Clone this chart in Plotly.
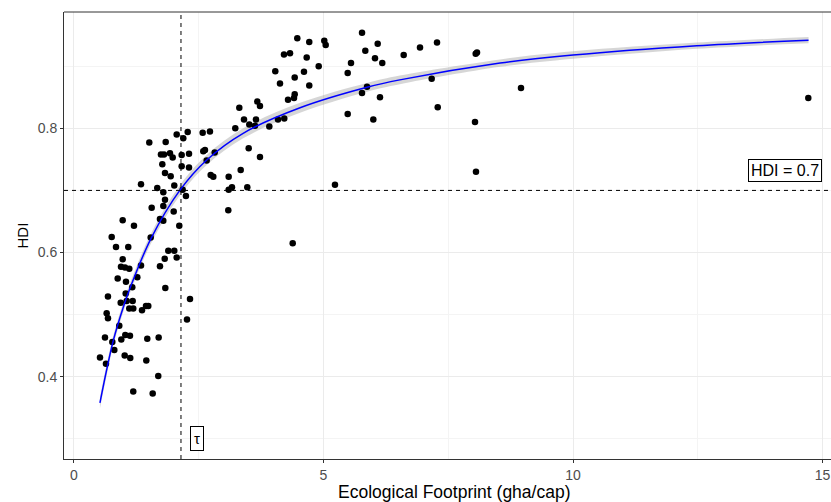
import plotly.graph_objects as go

# Ecological footprint (gha/cap) and HDI per country
ef = [1.509, 1.838, 2.058, 2.190, 2.279, 2.579, 2.725, 1.743, 1.804, 1.924,
      1.978, 2.158, 2.305, 1.770, 2.158, 2.305, 2.625, 2.659, 2.591, 1.824,
      1.938, 1.343, 1.669, 2.010, 1.790, 2.178, 2.244, 1.824, 1.790, 1.557,
      1.998, 1.723, 1.790, 0.976, 1.202, 2.110, 0.756, 1.537, 0.842, 1.088,
      1.890, 2.010, 2.058, 1.818, 1.723, 0.976, 0.942, 1.022, 1.108, 1.343,
      1.269, 0.876, 1.042, 1.168, 1.830, 1.036, 0.681, 0.936, 1.056, 1.176,
      1.108, 1.188, 1.363, 1.443, 1.489, 2.325, 0.655, 0.681, 2.265, 0.908,
      0.621, 0.768, 0.948, 1.028, 1.122, 1.469, 1.697, 0.808, 0.521, 0.641,
      1.016, 1.128, 1.449, 1.689, 1.188, 1.577, 4.475, 4.715, 5.016, 5.044,
      4.208, 4.329, 4.663, 4.904, 4.034, 4.609, 4.423, 4.128, 4.715, 4.423,
      4.409, 4.289, 3.673, 3.727, 3.313, 3.407, 3.647, 3.513, 3.627, 4.088,
      4.214, 3.914, 3.232, 3.501, 3.727, 2.820, 2.739, 2.792, 3.341, 3.100,
      3.166, 3.100, 3.473, 3.092, 5.772, 6.086, 5.838, 6.032, 6.178, 5.551,
      5.485, 6.607, 6.934, 7.275, 8.050, 8.076, 7.168, 5.872, 5.772, 6.132,
      5.485, 5.998, 7.289, 8.036, 8.958, 8.056, 14.715, 4.383, 5.230]
hdi = [0.777, 0.778, 0.790, 0.784, 0.794, 0.793, 0.795, 0.758, 0.758, 0.760,
       0.753, 0.757, 0.759, 0.742, 0.739, 0.737, 0.765, 0.748, 0.763, 0.728,
       0.723, 0.710, 0.704, 0.708, 0.697, 0.701, 0.691, 0.685, 0.675, 0.672,
       0.666, 0.654, 0.651, 0.652, 0.643, 0.643, 0.625, 0.624, 0.609, 0.609,
       0.603, 0.603, 0.592, 0.590, 0.578, 0.589, 0.577, 0.576, 0.574, 0.579,
       0.560, 0.558, 0.553, 0.544, 0.543, 0.534, 0.529, 0.519, 0.522, 0.522,
       0.510, 0.510, 0.507, 0.514, 0.514, 0.525, 0.502, 0.494, 0.492, 0.482,
       0.463, 0.456, 0.460, 0.467, 0.466, 0.461, 0.463, 0.443, 0.431, 0.421,
       0.434, 0.430, 0.426, 0.401, 0.376, 0.373, 0.945, 0.939, 0.941, 0.934,
       0.919, 0.921, 0.914, 0.900, 0.892, 0.891, 0.882, 0.872, 0.869, 0.855,
       0.849, 0.846, 0.843, 0.836, 0.833, 0.814, 0.814, 0.806, 0.804, 0.814,
       0.816, 0.803, 0.800, 0.768, 0.754, 0.761, 0.725, 0.722, 0.733, 0.722,
       0.705, 0.701, 0.705, 0.668, 0.954, 0.936, 0.925, 0.913, 0.905, 0.905,
       0.889, 0.918, 0.930, 0.938, 0.920, 0.922, 0.880, 0.867, 0.857, 0.850,
       0.823, 0.814, 0.834, 0.810, 0.865, 0.730, 0.849, 0.615, 0.709]

# Fitted curve and its confidence band
fit_x = [0.52, 0.66, 0.79, 0.98, 1.12, 1.54, 2.12, 2.66, 3.39, 4.53,
         5.87, 6.53, 8.54, 10.0, 12.48, 14.72]
fit_y = [0.358, 0.413, 0.459, 0.510, 0.542, 0.622, 0.700, 0.749, 0.792, 0.833,
         0.866, 0.878, 0.905, 0.918, 0.933, 0.942]
fit_lo = [0.349, 0.404, 0.451, 0.502, 0.534, 0.614, 0.692, 0.741, 0.784, 0.825,
          0.859, 0.871, 0.899, 0.912, 0.928, 0.937]
fit_hi = [0.367, 0.422, 0.467, 0.518, 0.550, 0.630, 0.708, 0.757, 0.800, 0.841,
          0.873, 0.885, 0.911, 0.924, 0.938, 0.947]

tau = 2.144
hdi_threshold = 0.7
x_ticks = [0, 5, 10, 15]
y_ticks = [0.4, 0.6, 0.8]

FONT = "Liberation Sans, Arial, sans-serif"

fig = go.Figure()

fig.add_trace(go.Scatter(
    x=fit_x, y=fit_lo, mode="lines", line_shape="spline",
    line=dict(width=0, color="rgba(0,0,0,0)"), hoverinfo="skip", showlegend=False))
fig.add_trace(go.Scatter(
    x=fit_x, y=fit_hi, mode="lines", line_shape="spline", fill="tonexty",
    fillcolor="rgba(153,153,153,0.4)",
    line=dict(width=0, color="rgba(0,0,0,0)"), hoverinfo="skip", showlegend=False))

fig.add_trace(go.Scatter(
    x=ef, y=hdi, mode="markers",
    marker=dict(color="black", size=6.5, line=dict(width=0)),
    showlegend=False))

fig.add_trace(go.Scatter(
    x=fit_x, y=fit_y, mode="lines", line_shape="spline",
    line=dict(color="#0000FF", width=1.5), showlegend=False))

fig.add_vline(x=tau, line=dict(color="black", width=1, dash="4px,4px"))
fig.add_hline(y=hdi_threshold, line=dict(color="black", width=1, dash="4px,4px"))

fig.add_annotation(x=14.25, y=0.732, text="HDI = 0.7", showarrow=False,
                   font=dict(family=FONT, size=16, color="black"),
                   bordercolor="black", borderwidth=1, borderpad=2, bgcolor="white")
fig.add_annotation(x=2.46, y=0.30, text="τ", showarrow=False,
                   font=dict(family=FONT, size=15, color="black"),
                   bordercolor="black", borderwidth=1, borderpad=3, bgcolor="white")

# top border of panel
fig.add_shape(type="line", xref="paper", yref="paper", x0=0, x1=1, y0=1, y1=1,
              line=dict(color="#333333", width=1))

# axis titles placed as text
fig.add_annotation(xref="paper", yref="paper", x=0.5085, y=0, yshift=-33,
                   xanchor="center", yanchor="middle", showarrow=False,
                   text="Ecological Footprint (gha/cap)",
                   font=dict(family=FONT, size=17.5, color="black"))
fig.add_annotation(xref="paper", yref="paper", x=0, y=0.5, xshift=-42,
                   xanchor="center", yanchor="middle", showarrow=False, textangle=-90,
                   text="HDI", font=dict(family=FONT, size=15, color="black"))

fig.update_layout(
    width=831, height=502,
    margin=dict(l=64, r=0, t=12, b=43, autoexpand=False),
    plot_bgcolor="white", paper_bgcolor="white",
    font=dict(family=FONT),
    xaxis=dict(
        range=[-0.2, 15.17], tickvals=x_ticks, ticktext=[str(v) for v in x_ticks],
        showgrid=True, gridcolor="#EBEBEB", gridwidth=1,
        minor=dict(dtick=2.5, tick0=0, showgrid=True, gridcolor="#F4F4F4", gridwidth=0.6),
        showline=True, linecolor="#333333", linewidth=1,
        ticks="outside", ticklen=3, tickcolor="#333333",
        tickfont=dict(size=14, color="#4D4D4D"), ticklabeloverflow="allow",
        zeroline=False, automargin=False,
    ),
    yaxis=dict(
        range=[0.2675, 0.9873], tickvals=y_ticks, ticktext=["0.4", "0.6", "0.8"],
        showgrid=True, gridcolor="#EBEBEB", gridwidth=1,
        minor=dict(dtick=0.1, tick0=0.3, showgrid=True, gridcolor="#F4F4F4", gridwidth=0.6),
        showline=True, linecolor="#333333", linewidth=1,
        ticks="outside", ticklen=3, tickcolor="#333333",
        tickfont=dict(size=14, color="#4D4D4D"),
        zeroline=False, automargin=False,
    ),
)

fig.write_html("out.html", config={"displayModeBar": False},
               post_script="document.body.style.margin='0';document.body.style.overflow='hidden';")
